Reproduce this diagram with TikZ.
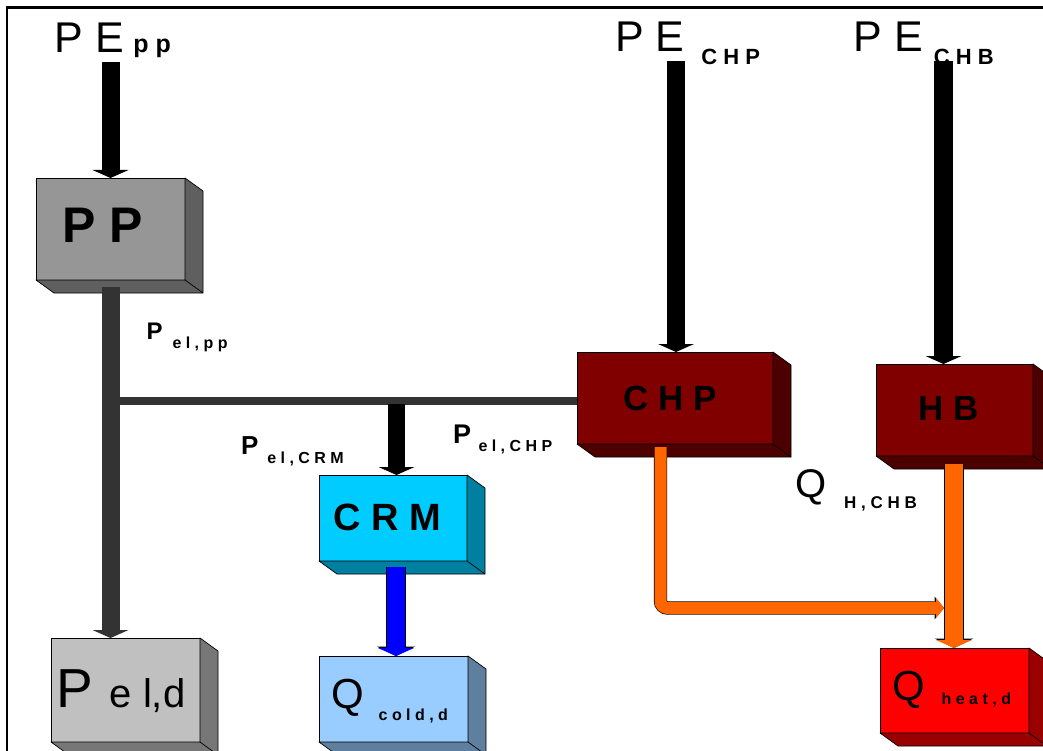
\documentclass[tikz,border=0pt]{standalone}
\usepackage{fontspec}
\setmainfont{Liberation Sans}
\usetikzlibrary{arrows.meta,calc}

\definecolor{ppfront}{HTML}{969696}
\definecolor{ppside}{HTML}{5F5F5F}
\definecolor{eldfront}{HTML}{C0C0C0}
\definecolor{eldside}{HTML}{777777}
\definecolor{crmfront}{HTML}{00CCFF}
\definecolor{crmside}{HTML}{0080A0}
\definecolor{coldfront}{HTML}{99CCFF}
\definecolor{coldside}{HTML}{5F7F9F}
\definecolor{plantfront}{HTML}{800000}
\definecolor{plantside}{HTML}{4D0000}
\definecolor{heatfront}{HTML}{FF0000}
\definecolor{heatside}{HTML}{990000}
\definecolor{busgray}{HTML}{333333}
\definecolor{heatflow}{HTML}{FF6600}
\definecolor{coldflow}{HTML}{0000FF}

\newcommand\fsz[1]{\fontsize{#1}{#1}\selectfont}
% right and bottom faces of a box whose front face is node #1
\newcommand\depthfaces[2]{%
  \filldraw[fill=#2, draw=black, line width=0.7pt, line join=round]
    (#1.north east) -- ++(18,13) -- ($(#1.south east)+(18,13)$)
    -- ($(#1.south west)+(18,13)$) -- (#1.south west) -- (#1.south east) -- cycle;
  \draw[line width=0.7pt] (#1.south east) -- ++(18,13);
}

\begin{document}
\begin{tikzpicture}[x=1pt,y=-1pt,
  front/.style={draw=black, line width=0.7pt, inner sep=0pt, outer sep=0pt},
  lbl/.style={inner sep=0pt, outer sep=0pt, anchor=base west},
  boxlbl/.style={inner sep=0pt, outer sep=0pt, anchor=base, font=\bfseries},
  bigtip/.style={-{Triangle[width=36pt,length=8pt,line width=0pt 0 0]}},
  bigtipout/.style={-{Triangle[width=38.6pt,length=9.4pt,line width=0pt 0 0]}},
  smalltip/.style={-{Triangle[width=20pt,length=8pt,line width=0pt 0 0]}},
  smalltipout/.style={-{Triangle[width=22.6pt,length=9.4pt,line width=0pt 0 0]}},
]
\useasboundingbox (0,0) rectangle (1043,751);
\fill[white] (0,0) rectangle (1043,751);

% frame
\draw[line width=2.6pt] (7,760) -- (7,7.5) -- (1050,7.5);

% boxes
\node[front, fill=ppfront, minimum width=149pt, minimum height=102pt] (pp) at (110.5,229) {};
\depthfaces{pp}{ppside}
\node[front, fill=eldfront, minimum width=149pt, minimum height=104pt] (eld) at (125.5,690) {};
\depthfaces{eld}{eldside}
\node[front, fill=crmfront, minimum width=148pt, minimum height=86pt] (crm) at (393,518) {};
\depthfaces{crm}{crmside}
\node[front, fill=coldfront, minimum width=149pt, minimum height=86pt] (cold) at (393.5,699) {};
\depthfaces{cold}{coldside}
\node[front, fill=plantfront, minimum width=196pt, minimum height=92pt] (chp) at (675,398) {};
\depthfaces{chp}{plantside}
\node[front, fill=plantfront, minimum width=157pt, minimum height=92pt] (hb) at (954.5,410) {};
\depthfaces{hb}{plantside}
\node[front, fill=heatfront, minimum width=149pt, minimum height=85pt] (heat) at (954.5,690.5) {};
\depthfaces{heat}{heatside}

% box captions
\node[boxlbl] (pp-t) at (103,243) {\fsz{50}P P};
\node[boxlbl] (chp-t) at (670,410) {\fsz{35}C H P};
\node[boxlbl] (hb-t) at (948.5,420) {\fsz{35}H B};
\node[boxlbl] (crm-t) at (387,530) {\fsz{38}C R M};
\node[lbl] (eld-t) at (56.6,707) {{\fsz{55}P}\hspace{16.5pt}{\fsz{40}e l,d}};
\node[lbl] (cold-t) at (331,708) {{\fsz{42}Q}\hspace{15pt}\raisebox{-12pt}{\bfseries\fsz{16}c o l d , d}};
\node[lbl] (heat-t) at (892,700) {{\fsz{42}Q}\hspace{17pt}\raisebox{-4pt}{\bfseries\fsz{16}h e a t , d}};

% flow labels
\node[lbl] (pepp) at (54.5,53) {{\fsz{43}P E}\hspace{9.5pt}{\bfseries\fsz{25}p p}};
\node[lbl] (pechp) at (615,52) {{\fsz{43}P E}\hspace{17pt}\raisebox{-13pt}{\bfseries\fsz{22}C H P}};
\node[lbl] (pechb) at (853.5,52) {{\fsz{43}P E}\hspace{11pt}\raisebox{-13pt}{\bfseries\fsz{22}C H B}};
\node[lbl] (pelpp) at (146.5,339) {{\bfseries\fsz{24}P}\hspace{10pt}\raisebox{-9pt}{\bfseries\fsz{16}e l , p p}};
\node[lbl] (pelcrm) at (241,454) {{\bfseries\fsz{26}P}\hspace{9pt}\raisebox{-9pt}{\bfseries\fsz{16}e l , C R M}};
\node[lbl] (pelchp) at (453,443) {{\bfseries\fsz{27}P}\hspace{7.5pt}\raisebox{-8pt}{\bfseries\fsz{16}e l , C H P}};
\node[lbl] (qhchb) at (795,497) {{\fsz{40}Q}\hspace{18pt}\raisebox{-11pt}{\bfseries\fsz{17}H , C H B}};

% free ends of the connectors
\coordinate (srcpp) at (110.5,62);
\coordinate (srcchp) at (676,61);
\coordinate (srcchb) at (943.5,61);
\coordinate (busleft) at (111,401);
\coordinate (crmtap) at (396.5,404);
\coordinate (heatjoin) at (944,608);

% primary energy inputs
\draw[line width=18pt, black, bigtip] (srcpp) -- (pp.north);
\draw[line width=18pt, black, bigtip] (srcchp) -- ([xshift=1pt]chp.north);
\draw[line width=19pt, black, bigtip] (srcchb) -- ([xshift=-11pt]hb.north);

% electricity bus
\draw[line width=8pt, busgray] (busleft) -- ([yshift=-3pt]chp.west);
\draw[line width=18pt, busgray, bigtip] ([yshift=-7pt]pp.south) -- ([xshift=-15pt]eld.north);
\draw[line width=17pt, black, bigtip] (crmtap) -- ([xshift=3.5pt]crm.north);

% cold flow
\draw[line width=19.4pt, black, bigtipout] ([xshift=3pt,yshift=-6pt]crm.south) -- ([xshift=2.5pt]cold.north);
\draw[line width=18pt, coldflow, bigtip] ([xshift=3pt,yshift=-6pt]crm.south) -- ([xshift=2.5pt]cold.north);

% heat flows
\draw[line width=19.4pt, black, bigtipout] ([xshift=-0.5pt,yshift=-8pt]hb.south) -- ([xshift=-0.5pt]heat.north);
\draw[line width=18pt, heatflow, bigtip] ([xshift=-0.5pt,yshift=-8pt]hb.south) -- ([xshift=-0.5pt]heat.north);
\draw[line width=13.4pt, black, rounded corners=7pt, smalltipout] ([xshift=-14.5pt,yshift=-3pt]chp.south) |- (heatjoin);
\draw[line width=12pt, heatflow, rounded corners=7pt, smalltip] ([xshift=-14.5pt,yshift=-3pt]chp.south) |- (heatjoin);
\end{tikzpicture}
\end{document}
